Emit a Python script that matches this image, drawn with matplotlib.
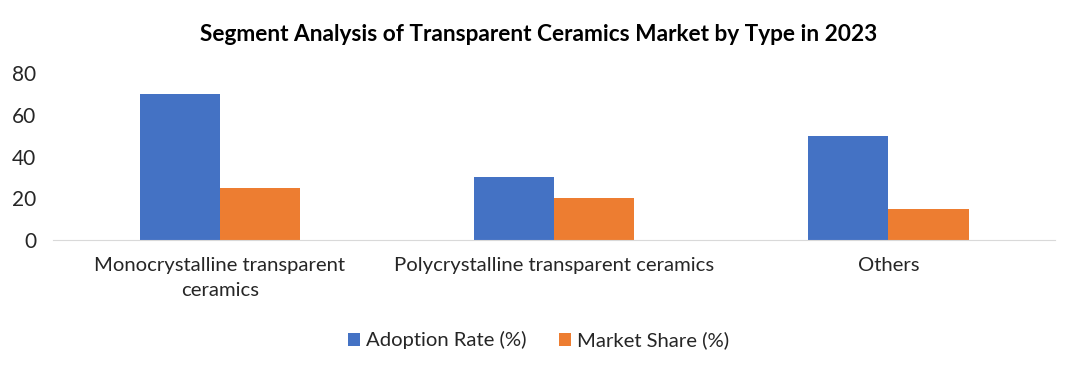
import numpy as np
import matplotlib.pyplot as plt

categories = ["Monocrystalline transparent\nceramics",
              "Polycrystalline transparent ceramics",
              "Others"]
adoption_rate = [70, 30, 50]
market_share = [25, 20, 15]
series_names = ["Adoption Rate (%)", "Market Share (%)"]

plt.rcParams['font.family'] = ['Lato', 'DejaVu Sans']

fig = plt.figure(figsize=(10.77, 3.71), dpi=100)
ax = fig.add_axes([0.049, 0.353, 0.931, 0.450])

x = np.arange(len(categories))
w = 0.24
ax.bar(x - w/2, adoption_rate, w, color='#4472C4', label=series_names[0])
ax.bar(x + w/2, market_share, w, color='#ED7D31', label=series_names[1])

ax.set_xlim(-0.5, len(categories) - 0.5)
ax.set_ylim(0, 80)
ax.set_yticks([0, 20, 40, 60, 80])
ax.set_xticks(x)
ax.set_xticklabels(categories, fontsize=14.6, color='#262626', linespacing=1.6)
ax.tick_params(axis='y', labelsize=15, labelcolor='#262626', length=0, pad=12)
ax.tick_params(axis='x', length=0, pad=12)

for s in ['top', 'right', 'left']:
    ax.spines[s].set_visible(False)
ax.spines['bottom'].set_color('#d9d9d9')

fig.suptitle("Segment Analysis of Transparent Ceramics Market by Type in 2023",
             fontsize=16.3, fontweight='bold', y=0.935, x=0.5)

fig.legend(loc='center', bbox_to_anchor=(0.5, 0.083), ncol=2, frameon=False,
           fontsize=14.6, handlelength=0.6, handleheight=0.6, handletextpad=0.3,
           columnspacing=1.6, labelcolor='#262626')

fig.savefig("out.png", dpi=100)
